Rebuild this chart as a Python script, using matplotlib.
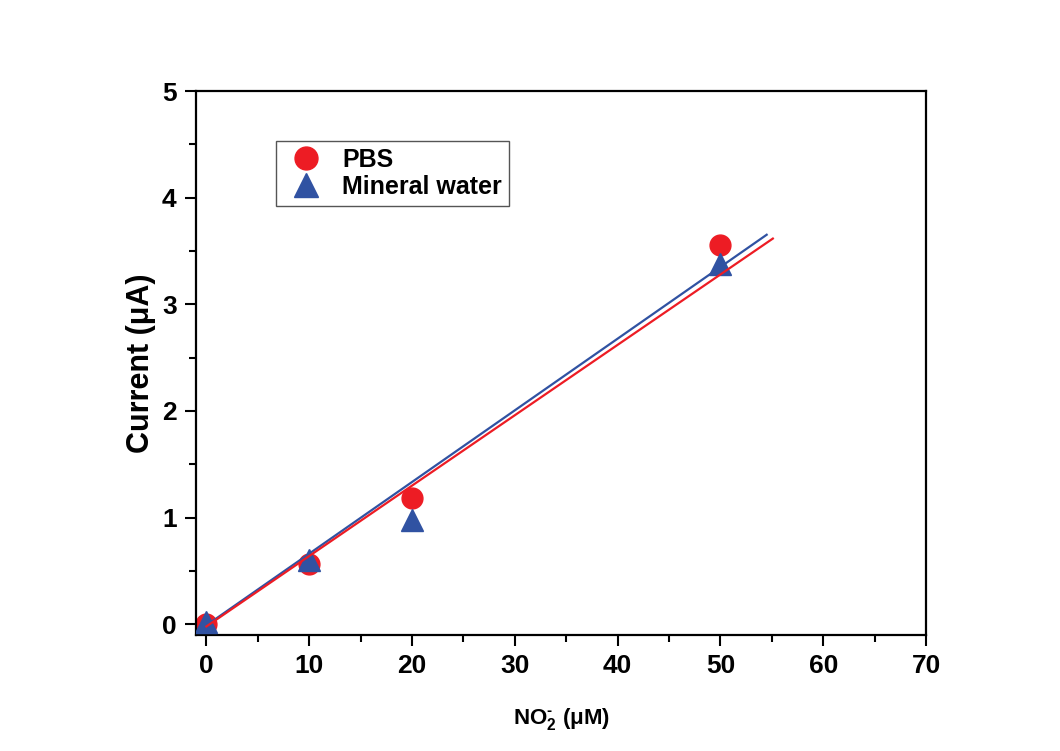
import numpy as np
import matplotlib
matplotlib.use("Agg")
from matplotlib import pyplot as plt
from matplotlib.ticker import MultipleLocator

# data
conc = [0, 10, 20, 50]
pbs = [0.0, 0.57, 1.18, 3.56]
mineral = [0.02, 0.60, 0.98, 3.38]

# fitted lines: slope, intercept, x end
pbs_fit = (0.0660, -0.02, 55.1)
mineral_fit = (0.0672, -0.01, 54.5)

red = "#ed1c24"
blue = "#3052a2"

plt.rcParams['font.family'] = ['Liberation Sans', 'DejaVu Sans']
plt.rcParams['font.weight'] = 'bold'
plt.rcParams['mathtext.fontset'] = 'custom'
plt.rcParams['mathtext.bf'] = 'Liberation Sans:bold'
plt.rcParams['mathtext.rm'] = 'Liberation Sans:bold'

fig = plt.figure(figsize=(10.6, 7.51), dpi=100)
ax = fig.add_axes([0.185, 0.1545, 0.6886, 0.7243])

ax.plot(conc, pbs, 'o', color=red, ms=15, mec=red, label='PBS', zorder=2)
ax.plot(conc, mineral, '^', color=blue, ms=16, mec=blue, label='Mineral water', zorder=3)

xb = np.array([0, mineral_fit[2]])
ax.plot(xb, mineral_fit[0] * xb + mineral_fit[1], color=blue, lw=1.6, zorder=4)
xr = np.array([0, pbs_fit[2]])
ax.plot(xr, pbs_fit[0] * xr + pbs_fit[1], color=red, lw=1.6, zorder=5)

ax.set_xlim(-1, 70)
ax.set_ylim(-0.1, 5)
ax.xaxis.set_major_locator(MultipleLocator(10))
ax.xaxis.set_minor_locator(MultipleLocator(5))
ax.yaxis.set_major_locator(MultipleLocator(1))
ax.yaxis.set_minor_locator(MultipleLocator(0.5))
ax.tick_params(which='both', direction='out', top=False, right=False, width=1.5)
ax.tick_params(which='major', length=8, labelsize=19, pad=6)
ax.tick_params(which='minor', length=5)
for s in ax.spines.values():
    s.set_linewidth(1.6)
for lab in ax.get_xticklabels() + ax.get_yticklabels():
    lab.set_fontweight('bold')

ax.set_xlabel('NO$_2^{\u2010}$ ($\\mathrm{\\mu}$M)', fontsize=16, fontweight='bold', labelpad=20)
ax.set_ylabel('Current (μA)', fontsize=22, fontweight='bold', labelpad=4)

leg = ax.legend(loc='upper left', bbox_to_anchor=(0.092, 0.932), fontsize=18,
                fancybox=False, edgecolor='#555555', framealpha=1,
                handletextpad=0.55, borderpad=0.3, labelspacing=0.1,
                handlelength=1.8, markerscale=1.1)
leg.get_frame().set_linewidth(1.0)
for t in leg.get_texts():
    t.set_fontweight('bold')

fig.savefig('out.png', dpi=100)
